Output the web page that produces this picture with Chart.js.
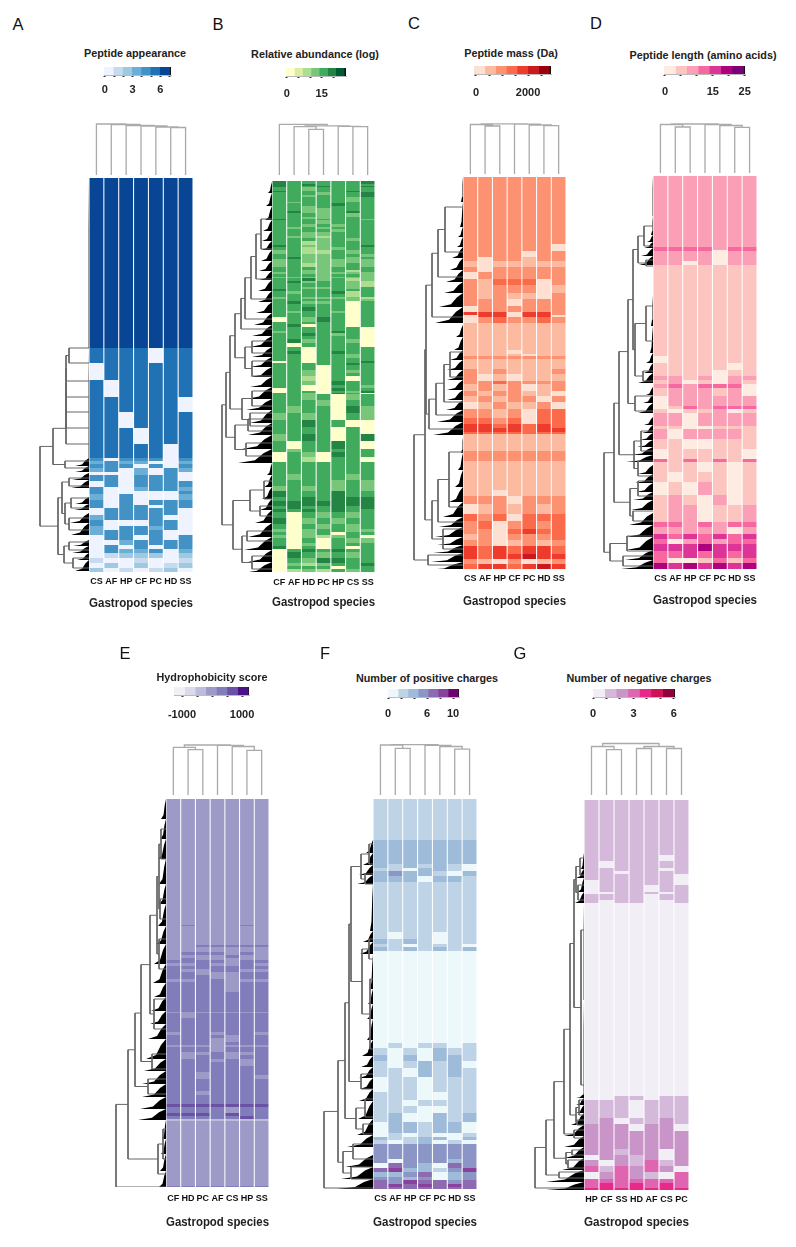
<!DOCTYPE html>
<html>
<head>
<meta charset="utf-8">
<title>Gastropod peptide heatmaps</title>
<script src="https://cdn.jsdelivr.net/npm/chart.js@4/dist/chart.umd.min.js"></script>
<style>
  body { margin: 0; background: #fff; font-family: "Liberation Sans", Arial, sans-serif; color: #111; }
  canvas { position: absolute; }
  .letter { position: absolute; font-size: 16.5px; line-height: 16px; transform: translate(-50%, -50%); }
  .scaleTitle { position: absolute; font-size: 10.8px; font-weight: bold; white-space: nowrap; transform: translate(-50%, -50%); color: #222; }
</style>
</head>
<body>
<script>
// species order per panel
const speciesA = ['CS', 'AF', 'HP', 'CF', 'PC', 'HD', 'SS'];
const speciesB = ['CF', 'AF', 'HD', 'PC', 'HP', 'CS', 'SS'];
const speciesE = ['CF', 'HD', 'PC', 'AF', 'CS', 'HP', 'SS'];
const speciesG = ['HP', 'CF', 'SS', 'HD', 'AF', 'CS', 'PC'];

// colour steps of each legend (last one is the black end cap)
const colorsA = ['#eff3ff', '#c6dbef', '#9ecae1', '#6baed6', '#4292c6', '#2171b5', '#084594', '#111'];
const colorsB = ['#ffffcc', '#d9f0a3', '#addd8e', '#78c679', '#41ab5d', '#238443', '#005a32', '#111'];
const colorsC = ['#fee0d2', '#fcbba1', '#fc9272', '#fb6a4a', '#ef3b2c', '#cb181d', '#99000d', '#111'];
const colorsD = ['#feebe2', '#fcc5c0', '#fa9fb5', '#f768a1', '#dd3497', '#ae017e', '#7a0177', '#111'];
const colorsE = ['#f2f0f7', '#dadaeb', '#bcbddc', '#9e9ac8', '#807dba', '#6a51a3', '#4a1486', '#111'];
const colorsF = ['#edf8fb', '#bfd3e6', '#9ebcda', '#8c96c6', '#8c6bb1', '#88419d', '#6e016b', '#111'];
const colorsG = ['#f1eef6', '#d4b9da', '#c994c7', '#df65b0', '#e7298a', '#ce1256', '#91003f', '#111'];

// legend bins, tick values and which ticks carry a label
const edgesA = [-0.1, 0.9, 1.9, 2.9, 3.9, 4.9, 5.9, 7, 7.15];
const ticksA = [0, 1, 2, 3, 4, 5, 6, 7];
const shownA = [0, 3, 6];
const edgesB = [-0.3, 3.3, 6.8, 10.4, 13.9, 17.5, 21, 24.6, 25.4];
const ticksB = [0, 5, 10, 15, 20];
const shownB = [0, 15];
const edgesC = [-76, 337, 750, 1163, 1576, 1989, 2402, 2815, 2880];
const ticksC = [0, 500, 1000, 1500, 2000, 2500];
const shownC = [0, 2000];
const edgesD = [-0.3, 3.3, 6.8, 10.4, 13.9, 17.5, 21, 24.6, 25.1];
const ticksD = [0, 5, 10, 15, 20, 25];
const shownD = [0, 15, 25];
const edgesE = [-1267, -914, -561, -208, 145, 498, 851, 1204, 1233];
const ticksE = [-1000, -500, 0, 500, 1000];
const shownE = [-1000, 1000];
const edgesF = [0, 1.54, 3.08, 4.62, 6.16, 7.7, 9.24, 10.78, 10.92];
const ticksF = [0, 2, 4, 6, 8, 10];
const shownF = [0, 6, 10];
const edgesG = [0, 0.86, 1.72, 2.58, 3.44, 4.3, 5.16, 6, 6.08];
const ticksG = [0, 1, 2, 3, 4, 5, 6];
const shownG = [0, 3, 6];

// heatmap rows, top to bottom: [number of peptides in the block, colour step per species]
const bandsA = [
  [170, '6666666'], [15, '5555055'], [17, '0555555'], [17, '5055555'], [15, '5555550'], [16, '5505555'],
  [16, '5550555'], [14, '5555505'], [3, '4044404'], [3, '3433003'], [4, '4440404'], [4, '3403043'],
  [3, '0003040'], [6, '4404440'], [6, '0404444'], [4, '4003443'], [3, '4000004'], [6, '3040003'],
  [5, '4040444'], [3, '4044044'], [7, '0444440'], [5, '3444400'], [6, '4000440'], [4, '3044340'],
  [5, '3444400'], [5, '0440404'], [5, '0034444'], [4, '0404044'], [4, '0433403'], [5, '0122202'],
  [5, '1001001'], [5, '0202012'], [4, '2010120']
];
const bandsB = [
  [3, '5444445'], [2, '5454444'], [1, '5445445'], [4, '4434444'], [1, '5444454'], [3, '4443445'],
  [2, '4434445'], [5, '4444434'], [1, '4344444'], [3, '4444544'], [2, '4434444'], [3, '4433444'],
  [2, '4533454'], [4, '4443434'], [2, '4433444'], [1, '5444443'], [4, '4443444'], [3, '4434344'],
  [2, '4343444'], [3, '4444344'], [4, '4433444'], [2, '4332444'], [3, '4443434'], [4, '4423444'],
  [2, '5433445'], [3, '4423344'], [4, '3422434'], [3, '4433443'], [2, '4533434'], [4, '3433333'],
  [4, '3423343'], [3, '4443444'], [2, '4433424'], [2, '3433333'], [3, '4443443'], [1, '3333333'],
  [3, '4453423'], [2, '4534432'], [4, '4444432'], [2, '4433434'], [2, '5444444'], [3, '4344524'],
  [3, '4444424'], [2, '3433332'], [2, '4444433'], [3, '4533404'], [3, '4444404'], [4, '4454404'],
  [2, '4344304'], [4, '4444404'], [5, '0435404'], [2, '4444404'], [3, '4504404'], [4, '4444440'],
  [2, '3444540'], [3, '4454340'], [3, '4444440'], [4, '4534430'], [4, '4044440'], [4, '4404444'],
  [3, '4504544'], [4, '4404434'], [3, '4404444'], [2, '0404445'], [2, '4444454'], [5, '4440444'],
  [3, '4430434'], [3, '4430444'], [5, '4420404'], [4, '4430544'], [3, '4400443'], [3, '0400544'],
  [2, '0440435'], [1, '4430540'], [6, '4434034'], [6, '4443044'], [7, '4344053'], [7, '3434043'],
  [1, '4454400'], [6, '4454400'], [7, '4444040'], [7, '3454045'], [8, '4044540'], [3, '4344444'],
  [5, '0430544'], [5, '0420440'], [12, '4444444'], [6, '4344434'], [6, '4444343'], [5, '3434343'],
  [6, '5444544'], [4, '4454555'], [5, '5555555'], [3, '4544545'], [3, '5454544'], [6, '4043434'],
  [6, '5034344'], [5, '4043434'], [3, '3034433'], [3, '4034044'], [3, '3032340'], [5, '4040433'],
  [3, '4030444'], [3, '5040404'], [3, '0454544'], [6, '0543434'], [5, '0435544'], [3, '0323445'],
  [3, '0444044'], [3, '0232434']
];
const bandsC = [
  [67, '2222222'], [7, '2222220'], [6, '2222022'], [4, '2022122'], [6, '1011111'], [5, '2022222'],
  [7, '0222222'], [6, '2133302'], [8, '2122201'], [6, '2121102'], [7, '2220222'], [6, '0222222'],
  [3, '4440442'], [2, '0440440'], [6, '0232232'], [2, '1111111'], [25, '1111111'], [4, '1110111'],
  [2, '1111011'], [3, '2222222'], [10, '1111111'], [5, '2121112'], [7, '2010111'], [3, '2232222'],
  [7, '1212012'], [5, '2122110'], [6, '1212202'], [7, '0121120'], [9, '2212033'], [6, '3323033'],
  [4, '4434343'], [4, '4444344'], [2, '3333333'], [17, '1111111'], [10, '2222222'], [29, '1111111'],
  [6, '1101111'], [8, '2220222'], [10, '0121212'], [7, '3230333'], [8, '2302323'], [5, '2203433'],
  [6, '1202223'], [6, '2201212'], [8, '4343443'], [5, '4344544'], [5, '2102012'], [5, '3443454']
];
const bandsD = [
  [71, '2222222'], [3, '3333233'], [1, '3333033'], [10, '2222022'], [4, '2202022'], [1, '1111111'],
  [90, '1111111'], [7, '0111111'], [7, '1111101'], [6, '1111011'], [4, '2212022'], [4, '1201021'],
  [4, '2323330'], [8, '1222120'], [10, '0222222'], [3, '0132333'], [4, '1011201'], [13, '2202222'], [3, '1100111'],
  [10, '2022221'], [10, '1100111'], [10, '0111110'], [3, '3131313'], [10, '1110101'], [10, '1011101'],
  [13, '0102101'], [10, '1210201'], [17, '1220112'], [5, '3323233'], [7, '2222202'], [5, '4343434'],
  [5, '3023233'], [7, '4445444'], [7, '3343434'], [5, '3001313'], [6, '5454545']
];
const bandsE = [
  [126, '3333333'], [1, '3433343'], [19, '3333333'], [2, '3344444'], [5, '3333333'], [3, '3444343'],
  [3, '3333433'], [2, '3433333'], [3, '4444344'], [3, '3343343'], [3, '4444444'], [3, '4334433'],
  [3, '4433344'], [4, '4443344'], [3, '3344333'], [10, '4444344'], [20, '4444444'], [1, '3333333'],
  [5, '4344444'], [14, '4444444'], [3, '3443443'], [3, '4444344'], [4, '4443344'], [3, '4443444'],
  [2, '3333333'], [5, '4443444'], [3, '4334334'], [4, '4344344'], [3, '4443434'], [4, '4444434'],
  [6, '4444444'], [3, '4434444'], [4, '4434443'], [5, '4444444'], [7, '4444444'], [4, '4434444'],
  [9, '4444444'], [3, '5555555'], [6, '4444344'], [3, '5554544'], [3, '4444454'], [2, '2222222'],
  [65, '3333333'], [1, '4444444']
];
const bandsF = [
  [41, '1111111'], [24, '2222222'], [4, '2121210'], [3, '1102210'], [5, '2322102'], [6, '2220221'],
  [50, '1111111'], [7, '1011011'], [5, '2121011'], [3, '1101110'], [4, '2121212'], [92, '0000000'],
  [5, '0101101'], [7, '1010211'], [6, '2020221'], [7, '1012120'], [9, '1102121'], [15, '0110111'],
  [8, '1110011'], [6, '1101111'], [7, '1110011'], [9, '1200212'], [11, '0221220'], [4, '0101001'],
  [3, '2112202'], [4, '1012010'], [15, '3333333'], [4, '3033323'], [5, '0432043'], [4, '4522135'],
  [5, '2234023'], [3, '3323023'], [4, '4354434'], [3, '4545454'], [2, '4444444']
];
const bandsG = [
  [55, '1111111'], [6, '1111101'], [7, '1011111'], [3, '1111101'], [3, '1101111'], [6, '1111110'],
  [5, '0111110'], [7, '0111011'], [2, '0011101'], [6, '1111011'], [3, '1011001'], [193, '0000000'],
  [4, '0011011'], [8, '1110111'], [10, '1110111'], [6, '1201121'], [7, '2220220'], [18, '2222222'],
  [6, '2212202'], [5, '0221202'], [6, '2021312'], [6, '3132320'], [7, '0232103'], [4, '3333333'],
  [5, '3434343'], [2, '4444444']
];

// column dendrograms: [merge height, child, child], a plain number is a column
const colTreeA = [51, 0, [50.5, 1, [49.5, 2, [49, 3, [48, 4, [47.5, 5, 6]]]]]];
const colTreeB = [50.7, 0, [49.2, [48.3, 1, [45.7, 2, 3]], [48.7, 4, [48.3, 5, 6]]]];
const colTreeC = [50.2, [49.5, 0, [48, 1, 2]], [49.8, 3, [49, 4, [48.3, 5, 6]]]];
const colTreeD = [49, [48.5, 0, [46, 1, 2]], [48.5, 3, [47.5, 4, [45.7, 5, 6]]]];
const colTreeE = [50, [47.7, 0, [45.4, 1, 2]], [49.6, 3, [48.5, 4, [44.7, 5, 6]]]];
const colTreeF = [50.4, [50, 0, [46.6, 1, 2]], [49.6, 3, [48.5, 4, [45.8, 5, 6]]]];
const colTreeG = [51.5, [48.5, 0, [45.4, 1, 2]], [48.5, [46.5, 3, 4], [46.5, 5, 6]]];

// row dendrograms, same shape: a plain number is a row
const rowTreeA = [49,
  [36, [23, [23, [23, [23, [23, [20, 170, 185], 203], 219], 234], 250], 266], [24, 283, 290]],
  [31, [27, [20, 300, 308], [24, [18, 320, 330], [20, 340, 352]]], [25, [20, 364, 372], [16, 380, 390]]]];
const rowTreeB = [50,
  [46, [42, [37, [31, [27, [21, [16, [11, 38, 68], 98], 118], 138], 148], [27, [20, 160, 172], [20, 180, 195]]],
    [30, [20, 210, 225], [22, 232, 245]]], [37, [24, 238, 250], [26, 262, 275]]],
  [39, [22, [8, 300, 318], [12, 325, 335]], [30, [25, 350, 360], [20, 375, 388]]]];
const rowTreeC = [49,
  [38, [37, [31, [25, [18, 30, 75], 100], 140], [34, [27, [19, [13, 175, 200], 225], 238], 252]],
    [31, [25, [14, 275, 330], 345], [20, 352, 372]]],
  [35, 378, 388]];
const rowTreeD = [49,
  [39, [34, [25, [20, [15, [9, 50, 70], [7, 84, 90]], [18, [7, 130, 165], [10, 195, 205]]], [18, 220, 235]],
    [19, [12, 255, 275], [15, 285, 300]]], [23, [15, 305, 320], [20, 335, 345]]],
  [43, [26, 360, 375], [30, 380, 390]]];
const rowTreeE = [50,
  [38, [31, [25, [16, [9, [7, [5, 30, 60], [6, 100, 120]], [7, 140, 170]], [12, 200, 230]], [14, 255, 270]],
    [18, 280, 295]], [8, [3, 330, 360], 375]],
  388];
const rowTreeF = [49,
  [35, [28, [24, [22, [12, [4, 45, 65], [8, 75, 85]], [11, [4, 140, 160], [3, 180, 250]]], [12, 275, 290]],
    [17, [8, 300, 318], [10, 325, 335]]], [30, [20, 345, 360], [22, 368, 380]]],
  389];
const rowTreeG = [49,
  [38, [30, [20, [14, [10, [8, [4, 58, 75], [6, 85, 100]], [3, 130, 285]], [8, [5, 300, 315], [7, 320, 325]]], [10, 330, 338]],
    [18, [12, 350, 355], [16, 360, 368]]], [25, 372, 378]],
  388];

// dense leaves of the row dendrograms: [first row, last row, depth]
const tipsA = [[0, 170, 1], [170, 280, 1], [280, 288, 14], [288, 294, 14], [295, 302, 17], [302, 310, 18], [319, 326, 14],
  [326, 332, 15], [335, 345, 19], [345, 357, 18], [362, 368, 16], [368, 375, 17], [375, 382, 12], [382, 393, 14]];
const tipsB = [[1, 12, 4], [12, 25, 6], [25, 39, 7], [39, 50, 9], [50, 60, 10], [60, 69, 11], [69, 80, 11], [80, 90, 13],
  [90, 99, 13], [99, 110, 14], [110, 121, 14], [121, 132, 16], [132, 144, 18], [144, 155, 20], [155, 166, 22], [166, 176, 20],
  [176, 186, 22], [186, 196, 22], [196, 206, 22], [206, 218, 26], [218, 229, 26], [229, 242, 22], [242, 254, 24], [254, 268, 30],
  [268, 282, 34], [282, 294, 5], [294, 306, 8], [306, 318, 10], [318, 329, 12], [329, 342, 17], [342, 356, 24], [356, 369, 28],
  [369, 381, 24], [381, 392, 30]];
const tipsC = [[0, 25, 2], [25, 50, 3], [50, 60, 5], [60, 70, 6], [70, 81, 11], [81, 93, 13], [93, 105, 17], [105, 116, 19],
  [116, 130, 24], [130, 146, 28], [148, 160, 7], [160, 173, 9], [173, 183, 13], [183, 193, 16], [193, 203, 16], [203, 213, 16],
  [213, 223, 16], [223, 233, 17], [233, 245, 26], [245, 258, 30], [260, 276, 2], [276, 293, 5], [293, 310, 8], [310, 325, 14],
  [325, 340, 20], [340, 350, 24], [350, 360, 28], [360, 368, 26], [368, 376, 30], [376, 385, 32], [385, 393, 38]];
const tipsD = [[0, 40, 1], [40, 59, 2], [59, 66, 6], [66, 72, 9], [72, 80, 12], [80, 89, 14], [119, 150, 2], [150, 177, 3],
  [177, 187, 7], [187, 197, 9], [197, 207, 15], [211, 219, 7], [219, 227, 10], [227, 237, 15], [241, 249, 9], [249, 257, 11],
  [257, 264, 13], [264, 271, 16], [271, 279, 22], [279, 286, 27], [289, 298, 15], [298, 307, 18], [307, 316, 17], [316, 324, 20],
  [324, 334, 22], [337, 349, 24], [349, 361, 27], [361, 374, 27], [374, 384, 28], [384, 393, 32]];
const tipsE = [[0, 20, 5], [20, 40, 6], [40, 60, 8], [60, 85, 7], [85, 105, 7], [105, 127, 8], [127, 145, 10], [145, 165, 12],
  [165, 184, 13], [184, 198, 12], [198, 212, 15], [212, 225, 16], [225, 240, 18], [240, 260, 20], [260, 272, 22], [272, 285, 24],
  [285, 298, 24], [298, 310, 26], [310, 321, 28], [321, 340, 4], [340, 355, 5], [355, 372, 6], [372, 388, 7]];
const tipsF = [[41, 54, 7], [54, 66, 10], [66, 76, 14], [76, 85, 16], [85, 132, 3], [132, 143, 10], [143, 155, 13], [155, 190, 3],
  [190, 205, 5], [205, 220, 6], [220, 241, 6], [241, 257, 11], [257, 268, 12], [268, 279, 14], [279, 290, 13], [290, 302, 14],
  [302, 320, 15], [320, 336, 16], [336, 348, 26], [356, 368, 28], [368, 380, 32], [380, 390, 36]];
const tipsG = [[53, 69, 3], [69, 78, 8], [78, 92, 6], [92, 103, 9], [103, 200, 1], [200, 294, 1], [294, 298, 8], [298, 305, 8],
  [305, 313, 8], [313, 325, 13], [325, 336, 20], [336, 347, 20], [347, 358, 20], [358, 370, 22], [370, 382, 38], [382, 390, 38]];

const xTitle = 'Gastropod species';
const uiFont = '"Liberation Sans", Arial, sans-serif';

// where each panel goes on the page
const panels = [
  { letter: 'A', lx: 18, ly: 24, title: 'Peptide appearance', tx: 135, ty: 53, barX: 104, barW: 67, barY: 67, numGap: 6,
    species: speciesA, colors: colorsA, edges: edgesA, ticks: ticksA, shown: shownA, bands: bandsA,
    colTree: colTreeA, rowTree: rowTreeA, tips: tipsA, heatX: 89, heatW: 104, heatY: 178, treeBase: 175, depth: 49, axisH: 39, tickGap: 4 },
  { letter: 'B', lx: 218, ly: 24, title: 'Relative abundance (log)', tx: 315, ty: 54, barX: 286, barW: 60, barY: 68, numGap: 9,
    species: speciesB, colors: colorsB, edges: edgesB, ticks: ticksB, shown: shownB, bands: bandsB,
    colTree: colTreeB, rowTree: rowTreeB, tips: tipsB, heatX: 272, heatW: 103, heatY: 181, treeBase: 175, depth: 50, axisH: 38, tickGap: 5 },
  { letter: 'C', lx: 414, ly: 23, title: 'Peptide mass (Da)', tx: 511, ty: 53, barX: 474, barW: 77, barY: 66, numGap: 10,
    species: speciesA, colors: colorsC, edges: edgesC, ticks: ticksC, shown: shownC, bands: bandsC,
    colTree: colTreeC, rowTree: rowTreeC, tips: tipsC, heatX: 463, heatW: 103, heatY: 177, treeBase: 174, depth: 49, axisH: 40, tickGap: 4 },
  { letter: 'D', lx: 596, ly: 23, title: 'Peptide length (amino acids)', tx: 703, ty: 55, barX: 664, barW: 81, barY: 66, numGap: 9,
    species: speciesA, colors: colorsD, edges: edgesD, ticks: ticksD, shown: shownD, bands: bandsD,
    colTree: colTreeD, rowTree: rowTreeD, tips: tipsD, heatX: 653, heatW: 104, heatY: 176, treeBase: 173, depth: 49, axisH: 39, tickGap: 4 },
  { letter: 'E', lx: 125, ly: 653, title: 'Hydrophobicity score', tx: 212, ty: 677, barX: 174, barW: 75, barY: 687, numGap: 11,
    species: speciesE, colors: colorsE, edges: edgesE, ticks: ticksE, shown: shownE, bands: bandsE,
    colTree: colTreeE, rowTree: rowTreeE, tips: tipsE, heatX: 166, heatW: 103, heatY: 799, treeBase: 795, depth: 50, axisH: 43, tickGap: 6 },
  { letter: 'F', lx: 325, ly: 653, title: 'Number of positive charges', tx: 427, ty: 678, barX: 388, barW: 71, barY: 689, numGap: 8,
    species: speciesA, colors: colorsF, edges: edgesF, ticks: ticksF, shown: shownF, bands: bandsF,
    colTree: colTreeF, rowTree: rowTreeF, tips: tipsF, heatX: 373, heatW: 104, heatY: 799, treeBase: 795, depth: 49, axisH: 41, tickGap: 4 },
  { letter: 'G', lx: 520, ly: 653, title: 'Number of negative charges', tx: 639, ty: 678, barX: 593, barW: 82, barY: 689, numGap: 8,
    species: speciesG, colors: colorsG, edges: edgesG, ticks: ticksG, shown: shownG, bands: bandsG,
    colTree: colTreeG, rowTree: rowTreeG, tips: tipsG, heatX: 584, heatW: 105, heatY: 800, treeBase: 795, depth: 49, axisH: 40, tickGap: 4 }
];

Chart.defaults.animation = false;
Chart.defaults.responsive = false;
Chart.defaults.plugins.legend.display = false;
Chart.defaults.plugins.tooltip.enabled = false;

function addCanvas(left, top, width, height) {
  const c = document.createElement('canvas');
  c.width = width;
  c.height = height;
  c.style.left = left + 'px';
  c.style.top = top + 'px';
  document.body.appendChild(c);
  return c.getContext('2d');
}

function addText(cls, text, x, y) {
  const d = document.createElement('div');
  d.className = cls;
  d.textContent = text;
  d.style.left = x + 'px';
  d.style.top = y + 'px';
  document.body.appendChild(d);
}

// walks a nested tree and writes one bracket per merge, {x:null} breaks the line
function walkTree(node, out, toPoint) {
  if (typeof node === 'number') return { pos: node, h: 0 };
  const a = walkTree(node[1], out, toPoint);
  const b = walkTree(node[2], out, toPoint);
  out.push(toPoint(a.pos, a.h), toPoint(a.pos, node[0]), toPoint(b.pos, node[0]), toPoint(b.pos, b.h), { x: null, y: null });
  return { pos: (a.pos + b.pos) / 2, h: node[0] };
}

function hiddenScale(extra) {
  return Object.assign({ display: false, type: 'linear' }, extra);
}

function drawHeat(p, total) {
  const pad = 14;
  new Chart(addCanvas(p.heatX - pad, p.heatY, p.heatW + pad * 2, total + p.axisH), {
    type: 'bar',
    data: {
      labels: p.species,
      datasets: p.bands.map(b => ({
        data: p.species.map(() => b[0]),
        backgroundColor: [...b[1]].map(l => p.colors[+l]),
        borderWidth: 0,
        barPercentage: 0.93,
        categoryPercentage: 1
      }))
    },
    options: {
      layout: { padding: { left: pad, right: pad } },
      scales: {
        x: {
          stacked: true,
          grid: { display: false, drawTicks: false },
          border: { display: false },
          ticks: { autoSkip: false, maxRotation: 0, padding: p.tickGap, color: '#111', font: { family: uiFont, size: 9, weight: 'bold' } },
          title: { display: true, text: xTitle, color: '#222', padding: 0, font: { family: uiFont, size: 12, weight: 'bold' } },
          afterFit: s => { s.height = p.axisH; }
        },
        y: { display: false, stacked: true, reverse: true, min: 0, max: total }
      }
    }
  });
}

function drawColTree(p) {
  const pts = [];
  walkTree(p.colTree, pts, (pos, h) => ({ x: pos, y: h }));
  const height = 54;
  new Chart(addCanvas(p.heatX, p.treeBase - height, p.heatW, height), {
    type: 'scatter',
    data: { datasets: [{ data: pts, showLine: true, spanGaps: false, pointRadius: 0, borderColor: '#aaa', borderWidth: 1.3, clip: false }] },
    options: { scales: { x: hiddenScale({ min: -0.5, max: 6.5 }), y: hiddenScale({ min: 0, max: height }) } }
  });
}

function drawRowTree(p, total) {
  const pts = [];
  walkTree(p.rowTree, pts, (pos, h) => ({ x: h, y: pos }));
  const datasets = [{ data: pts, showLine: true, spanGaps: false, pointRadius: 0, borderColor: '#666', borderWidth: 1, clip: false }];
  p.tips.forEach(t => {
    const span = t[1] - t[0];
    // heavy at the heatmap edge, thinning out to a whisker
    datasets.push({
      data: [
        { x: t[2], y: t[1] },
        { x: t[2] * 0.5, y: t[1] - span * 0.2 },
        { x: t[2] * 0.25, y: t[0] + span * 0.3 },
        { x: 0, y: t[0] }
      ],
      showLine: true,
      pointRadius: 0,
      borderWidth: 0,
      backgroundColor: '#000',
      fill: { target: { value: t[1] } }
    });
  });
  new Chart(addCanvas(p.heatX - p.depth - 1, p.heatY, p.depth + 1, total), {
    type: 'scatter',
    data: { datasets },
    options: { scales: { x: hiddenScale({ reverse: true, min: 0, max: p.depth + 1 }), y: hiddenScale({ reverse: true, min: 0, max: total }) } }
  });
}

function drawScale(p) {
  const pad = 24, barH = 8, axisH = 30;
  new Chart(addCanvas(p.barX - pad, p.barY, p.barW + pad * 2, barH + axisH), {
    type: 'bar',
    data: {
      labels: ['scale'],
      datasets: p.colors.map((c, i) => ({
        data: [[p.edges[i], p.edges[i + 1]]],
        backgroundColor: c,
        borderWidth: 0,
        grouped: false,
        barPercentage: 1,
        categoryPercentage: 1
      }))
    },
    options: {
      indexAxis: 'y',
      layout: { padding: { left: pad, right: pad } },
      scales: {
        y: { display: false },
        x: {
          type: 'linear',
          min: p.edges[0],
          max: p.edges[p.edges.length - 1],
          afterBuildTicks: s => { s.ticks = p.ticks.map(v => ({ value: v })); },
          grid: { drawOnChartArea: false, tickLength: 2, tickColor: '#333', tickWidth: 2 },
          border: { display: true, color: '#bbb' },
          ticks: {
            autoSkip: false,
            maxRotation: 0,
            padding: p.numGap,
            color: '#222',
            font: { family: uiFont, size: 11, weight: 'bold' },
            callback: v => (p.shown.includes(v) ? String(v) : '')
          },
          afterFit: s => { s.height = axisH; }
        }
      }
    }
  });
}

panels.forEach(p => {
  const total = p.bands.reduce((sum, b) => sum + b[0], 0);
  addText('letter', p.letter, p.lx, p.ly);
  addText('scaleTitle', p.title, p.tx, p.ty);
  drawScale(p);
  drawColTree(p);
  drawRowTree(p, total);
  drawHeat(p, total);
});
</script>
</body>
</html>
